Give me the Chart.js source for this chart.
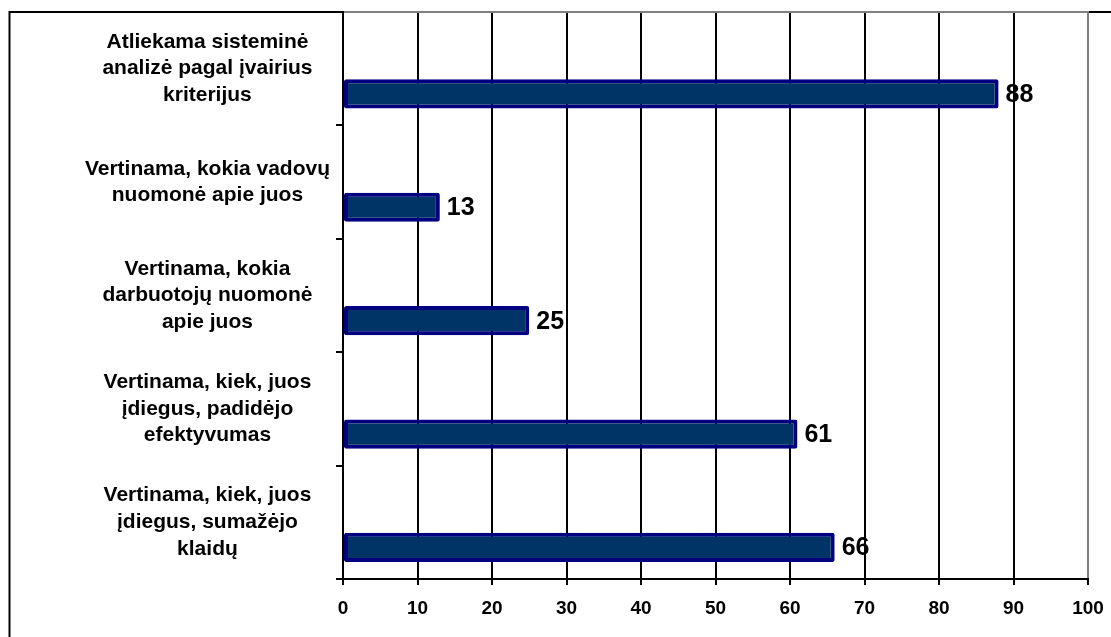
<!DOCTYPE html>
<html>
<head>
<meta charset="utf-8">
<script src="https://cdn.jsdelivr.net/npm/chart.js@4/dist/chart.umd.min.js"></script>
<style>
  html, body { margin: 0; padding: 0; background: #fff; }
  #wrap { width: 1111px; height: 637px; position: relative; }
</style>
</head>
<body>
<div id="wrap"><canvas id="xsgChart"></canvas></div>
<script>
var FONT = '"Liberation Sans", Arial, sans-serif';

var categories = [
    ['Atliekama sisteminė', 'analizė pagal įvairius', 'kriterijus'],
    ['Vertinama, kokia vadovų', 'nuomonė apie juos'],
    ['Vertinama, kokia', 'darbuotojų nuomonė', 'apie juos'],
    ['Vertinama, kiek, juos', 'įdiegus, padidėjo', 'efektyvumas'],
    ['Vertinama, kiek, juos', 'įdiegus, sumažėjo', 'klaidų']
];
var emptySeries = [null, null, null, null, null];
var values = [88, 13, 25, 61, 66];
var xTicks = [0, 10, 20, 30, 40, 50, 60, 70, 80, 90, 100];

// outer frame of the chart object
var framePlugin = {
    id: 'frame',
    beforeDraw: function (chart) {
        var ctx = chart.ctx;
        ctx.save();
        ctx.fillStyle = '#fff';
        ctx.fillRect(0, 0, chart.width, chart.height);
        ctx.strokeStyle = '#000';
        ctx.lineWidth = 2;
        ctx.beginPath();
        ctx.moveTo(9.5, chart.height + 5);
        ctx.lineTo(9.5, 12);
        ctx.lineTo(chart.width + 5, 12);
        ctx.stroke();
        ctx.restore();
    },
    afterDatasetsDraw: function (chart) {
        // grey top edge of the plot area
        var a = chart.chartArea, ctx = chart.ctx;
        ctx.save();
        ctx.strokeStyle = '#808080';
        ctx.lineWidth = 2;
        ctx.beginPath();
        ctx.moveTo(a.left + 1, a.top);
        ctx.lineTo(a.right + 1, a.top);
        ctx.stroke();
        ctx.restore();
    }
};

// value printed right of each bar
var valueLabels = {
    id: 'valueLabels',
    afterDatasetsDraw: function (chart) {
        var ctx = chart.ctx;
        var meta = chart.getDatasetMeta(1);
        ctx.save();
        ctx.font = 'bold 25px ' + FONT;
        ctx.fillStyle = '#000';
        ctx.textAlign = 'left';
        ctx.textBaseline = 'middle';
        meta.data.forEach(function (bar, i) {
            ctx.fillText(String(values[i]), bar.x + 7, bar.y + 1);
        });
        ctx.restore();
    }
};

var chrtcfg = {
    type: 'bar',
    data: {
        labels: categories,
        datasets: [
            { label: '', data: emptySeries },
            {
                label: '', data: values,
                backgroundColor: '#003366',
                borderColor: '#000080',
                borderWidth: 4,
                borderRadius: 2,
                borderSkipped: false
            }
        ]
    },
    options: {
        indexAxis: 'y',
        responsive: true,
        maintainAspectRatio: false,
        animation: false,
        devicePixelRatio: 1,
        categoryPercentage: 0.887,
        barPercentage: 0.58,
        layout: { padding: { top: 12, right: 23, bottom: 0, left: 0 } },
        plugins: { legend: { display: false }, tooltip: { enabled: false } },
        scales: {
            x: {
                min: 0, max: 100,
                afterBuildTicks: function (scale) {
                    scale.ticks = xTicks.map(function (v) { return { value: v }; });
                },
                afterFit: function (scale) {
                    scale.height = 58;
                    scale.paddingLeft = 0;
                    scale.paddingRight = 0;
                },
                border: { display: true, color: '#000', width: 2 },
                grid: {
                    color: function (c) { return c.tick && c.tick.value === 100 ? '#808080' : '#000'; },
                    lineWidth: 2,
                    tickLength: 6,
                    tickColor: '#000'
                },
                ticks: {
                    color: '#000',
                    padding: 12,
                    maxRotation: 0,
                    font: { family: FONT, size: 19, weight: 'bold' }
                }
            },
            y: {
                afterFit: function (scale) {
                    scale.width = 343;
                    scale.paddingTop = 0;
                    scale.paddingBottom = 0;
                },
                border: { display: true, color: '#000', width: 2 },
                grid: {
                    drawOnChartArea: false,
                    color: '#000',
                    lineWidth: 2,
                    tickLength: 7
                },
                ticks: {
                    color: '#000',
                    padding: 6,
                    crossAlign: 'center',
                    font: { family: FONT, size: 21, weight: 'bold', lineHeight: 1.27 }
                }
            }
        }
    },
    plugins: [framePlugin, valueLabels]
};

var xsgChart = new Chart(document.getElementById('xsgChart').getContext('2d'), chrtcfg);
</script>
</body>
</html>
